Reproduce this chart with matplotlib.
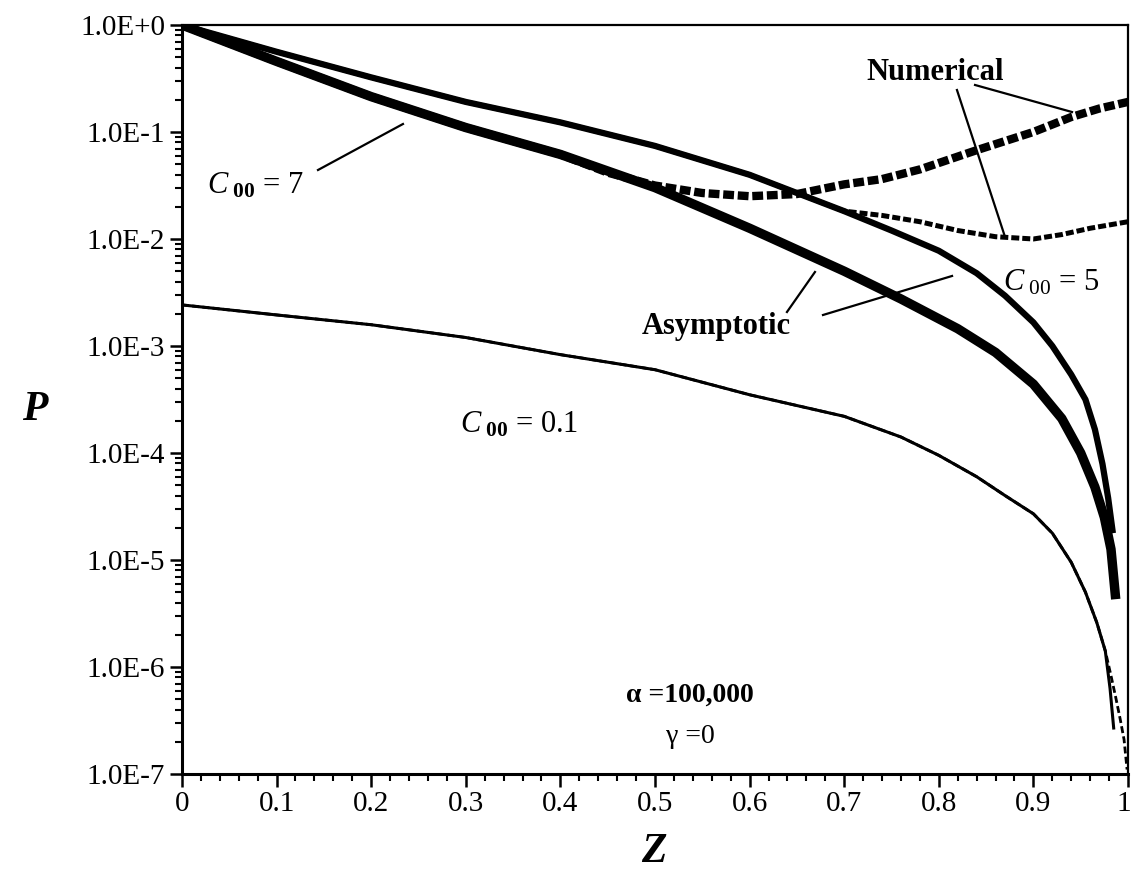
import numpy as np
import matplotlib
matplotlib.use("Agg")
from matplotlib import pyplot as plt
from matplotlib import transforms
from matplotlib.ticker import FixedLocator, FuncFormatter, MultipleLocator, LogLocator

plt.rcParams["font.family"] = "serif"
plt.rcParams["font.serif"] = ["Liberation Serif", "DejaVu Serif"]
plt.rcParams["mathtext.fontset"] = "custom"
plt.rcParams["mathtext.rm"] = "Liberation Serif"
plt.rcParams["mathtext.it"] = "Liberation Serif:italic"
plt.rcParams["mathtext.bf"] = "Liberation Serif:bold"

# asymptotic solution, C00 = 7
z_asy7 = [0, 0.1, 0.2, 0.3, 0.4, 0.5, 0.6, 0.7, 0.76, 0.82, 0.86, 0.9, 0.93, 0.95, 0.965, 0.975, 0.982, 0.987]
p_asy7 = [1.0, 0.457, 0.214, 0.110, 0.0617, 0.0302, 0.0126, 0.0050, 0.00275, 0.00145, 8.7e-4, 4.4e-4, 2.1e-4,
          1.0e-4, 4.8e-5, 2.5e-5, 1.26e-5, 4.3e-6]

# asymptotic solution, C00 = 5
z_asy5 = [0, 0.1, 0.2, 0.3, 0.4, 0.5, 0.6, 0.65, 0.7, 0.75, 0.8, 0.84, 0.87, 0.9, 0.92, 0.94, 0.955, 0.965, 0.973,
          0.979, 0.984]
p_asy5 = [1.0, 0.562, 0.324, 0.191, 0.123, 0.0741, 0.0398, 0.0269, 0.0182, 0.0120, 0.00776, 0.00479, 0.00295,
          0.00166, 0.0010, 5.4e-4, 3.16e-4, 1.66e-4, 7.9e-5, 3.8e-5, 1.78e-5]

# asymptotic solution, C00 = 0.1
z_asy01 = [0, 0.1, 0.2, 0.3, 0.4, 0.5, 0.6, 0.7, 0.76, 0.8, 0.84, 0.87, 0.9, 0.92, 0.94, 0.955, 0.967, 0.976,
           0.981, 0.985]
p_asy01 = [2.42e-3, 1.95e-3, 1.58e-3, 1.2e-3, 8.3e-4, 6.0e-4, 3.5e-4, 2.2e-4, 1.41e-4, 9.5e-5, 6.0e-5, 4.0e-5,
           2.7e-5, 1.78e-5, 9.5e-6, 5.0e-6, 2.6e-6, 1.41e-6, 6.3e-7, 2.6e-7]

# numerical solutions
z_num7 = [0, 0.1, 0.2, 0.3, 0.4, 0.45, 0.5, 0.55, 0.6, 0.65, 0.7, 0.74, 0.78, 0.84, 0.9, 0.94, 0.97, 1.0]
p_num7 = [1.0, 0.457, 0.214, 0.110, 0.0617, 0.0417, 0.0316, 0.0269, 0.0251, 0.0263, 0.0324, 0.0363, 0.0447, 0.0676,
          0.100, 0.138, 0.166, 0.191]

z_num5 = [0, 0.1, 0.2, 0.3, 0.4, 0.5, 0.6, 0.65, 0.7, 0.74, 0.78, 0.82, 0.86, 0.9, 0.93, 0.96, 1.0]
p_num5 = [1.0, 0.562, 0.324, 0.191, 0.123, 0.0741, 0.0398, 0.0269, 0.0182, 0.0166, 0.0145, 0.0120, 0.0105, 0.0100,
          0.0110, 0.0126, 0.0145]

z_num01 = [0, 0.1, 0.2, 0.3, 0.4, 0.5, 0.6, 0.7, 0.76, 0.8, 0.84, 0.87, 0.9, 0.92, 0.94, 0.955, 0.967, 0.976,
           0.982, 0.987, 0.9916, 0.9958, 0.999]
p_num01 = [2.42e-3, 1.95e-3, 1.58e-3, 1.2e-3, 8.3e-4, 6.0e-4, 3.5e-4, 2.2e-4, 1.41e-4, 9.5e-5, 6.0e-5, 4.0e-5,
           2.7e-5, 1.78e-5, 9.5e-6, 5.0e-6, 2.6e-6, 1.41e-6, 8.3e-7, 5.2e-7, 3.3e-7, 2.1e-7, 1.1e-7]

y_exponents = [0, -1, -2, -3, -4, -5, -6, -7]
x_ticks = [0, 0.1, 0.2, 0.3, 0.4, 0.5, 0.6, 0.7, 0.8, 0.9, 1.0]
x_labels = ["0", "0.1", "0.2", "0.3", "0.4", "0.5", "0.6", "0.7", "0.8", "0.9", "1"]

fig = plt.figure(figsize=(11.33, 8.77), dpi=100)
ax = fig.add_axes([0.1606, 0.1175, 0.8350, 0.8540])

ax.plot(z_asy01, p_asy01, "-k", lw=2.2, solid_capstyle="butt", solid_joinstyle="round")
ax.plot(z_num01, p_num01, color="k", lw=2.0, ls=(0, (2.5, 1.2)), dash_capstyle="butt")
ax.plot(z_asy5, p_asy5, "-k", lw=4.5, solid_capstyle="butt", solid_joinstyle="round")
ax.plot(z_num5, p_num5, color="k", lw=3.6, ls=(0, (1.6, 0.6)), dash_capstyle="butt")
ax.plot(z_asy7, p_asy7, "-k", lw=6.8, solid_capstyle="butt", solid_joinstyle="round")
ax.plot(z_num7, p_num7, color="k", lw=6.0, ls=(0, (1.3, 0.45)), dash_capstyle="butt")

ax.set_yscale("log")
ax.set_xlim(0, 1)
ax.set_ylim(1e-7, 1)

ax.yaxis.set_major_locator(FixedLocator([10.0 ** e for e in y_exponents]))
ax.yaxis.set_major_formatter(FuncFormatter(lambda v, pos: "1.0E{:+d}".format(int(round(np.log10(v))))))
ax.yaxis.set_minor_locator(LogLocator(base=10, subs=np.arange(2, 10), numticks=20))
ax.yaxis.set_minor_formatter(FuncFormatter(lambda v, pos: ""))
ax.set_xticks(x_ticks)
ax.set_xticklabels(x_labels)
ax.xaxis.set_minor_locator(MultipleLocator(0.02))

ax.tick_params(axis="both", which="major", direction="out", length=9, width=1.8, labelsize=21, pad=3)
ax.tick_params(axis="both", which="minor", direction="out", length=5, width=1.5)
ax.tick_params(top=False, right=False, which="both")
for side in ["left", "bottom"]:
    ax.spines[side].set_linewidth(2.2)
for side in ["top", "right"]:
    ax.spines[side].set_linewidth(1.6)

# keep the last x label inside the figure edge
last = ax.get_xticklabels()[-1]
last.set_transform(last.get_transform() + transforms.ScaledTranslation(-4 / 100, 0, fig.dpi_scale_trans))

fig.text(0.031, 0.532, "P", fontsize=30, fontweight="bold", fontstyle="italic", ha="center", va="center")
fig.text(0.577, 0.029, "Z", fontsize=30, fontweight="bold", fontstyle="italic", ha="center", va="center")

tr = ax.transAxes
ax.text(0.796, 0.937, "Numerical", transform=tr, fontsize=22, fontweight="bold", ha="center", va="center")
ax.text(0.5645, 0.597, "Asymptotic", transform=tr, fontsize=22, fontweight="bold", ha="center", va="center")
ax.text(0.026, 0.785, r"$\mathit{C}_{\ \mathbf{00}}$ = 7", transform=tr, fontsize=22, ha="left", va="center")
ax.text(0.868, 0.656, r"$\mathit{C}_{\ \mathit{00}}$ = 5", transform=tr, fontsize=22, ha="left", va="center")
ax.text(0.294, 0.466, r"$\mathit{C}_{\ \mathbf{00}}$ = 0.1", transform=tr, fontsize=22, ha="left", va="center")
ax.text(0.537, 0.105, "\u03b1 =100,000", transform=tr, fontsize=20, fontweight="bold", ha="center", va="center")
ax.text(0.537, 0.050, "\u03b3 =0", transform=tr, fontsize=20, ha="center", va="center")

# leader lines from the labels to the curves
leaders = [
    ((0.1438, 0.8064), (0.2336, 0.8678)),
    ((0.8383, 0.9199), (0.9408, 0.8838)),
    ((0.8192, 0.9132), (0.8700, 0.7170)),
    ((0.6395, 0.6168), (0.6691, 0.6702)),
    ((0.6776, 0.6128), (0.8140, 0.6649)),
]
for (x0, y0), (x1, y1) in leaders:
    ax.plot([x0, x1], [y0, y1], "-k", lw=1.6, transform=tr, clip_on=False)

plt.savefig("out.png", dpi=100)
plt.close()
